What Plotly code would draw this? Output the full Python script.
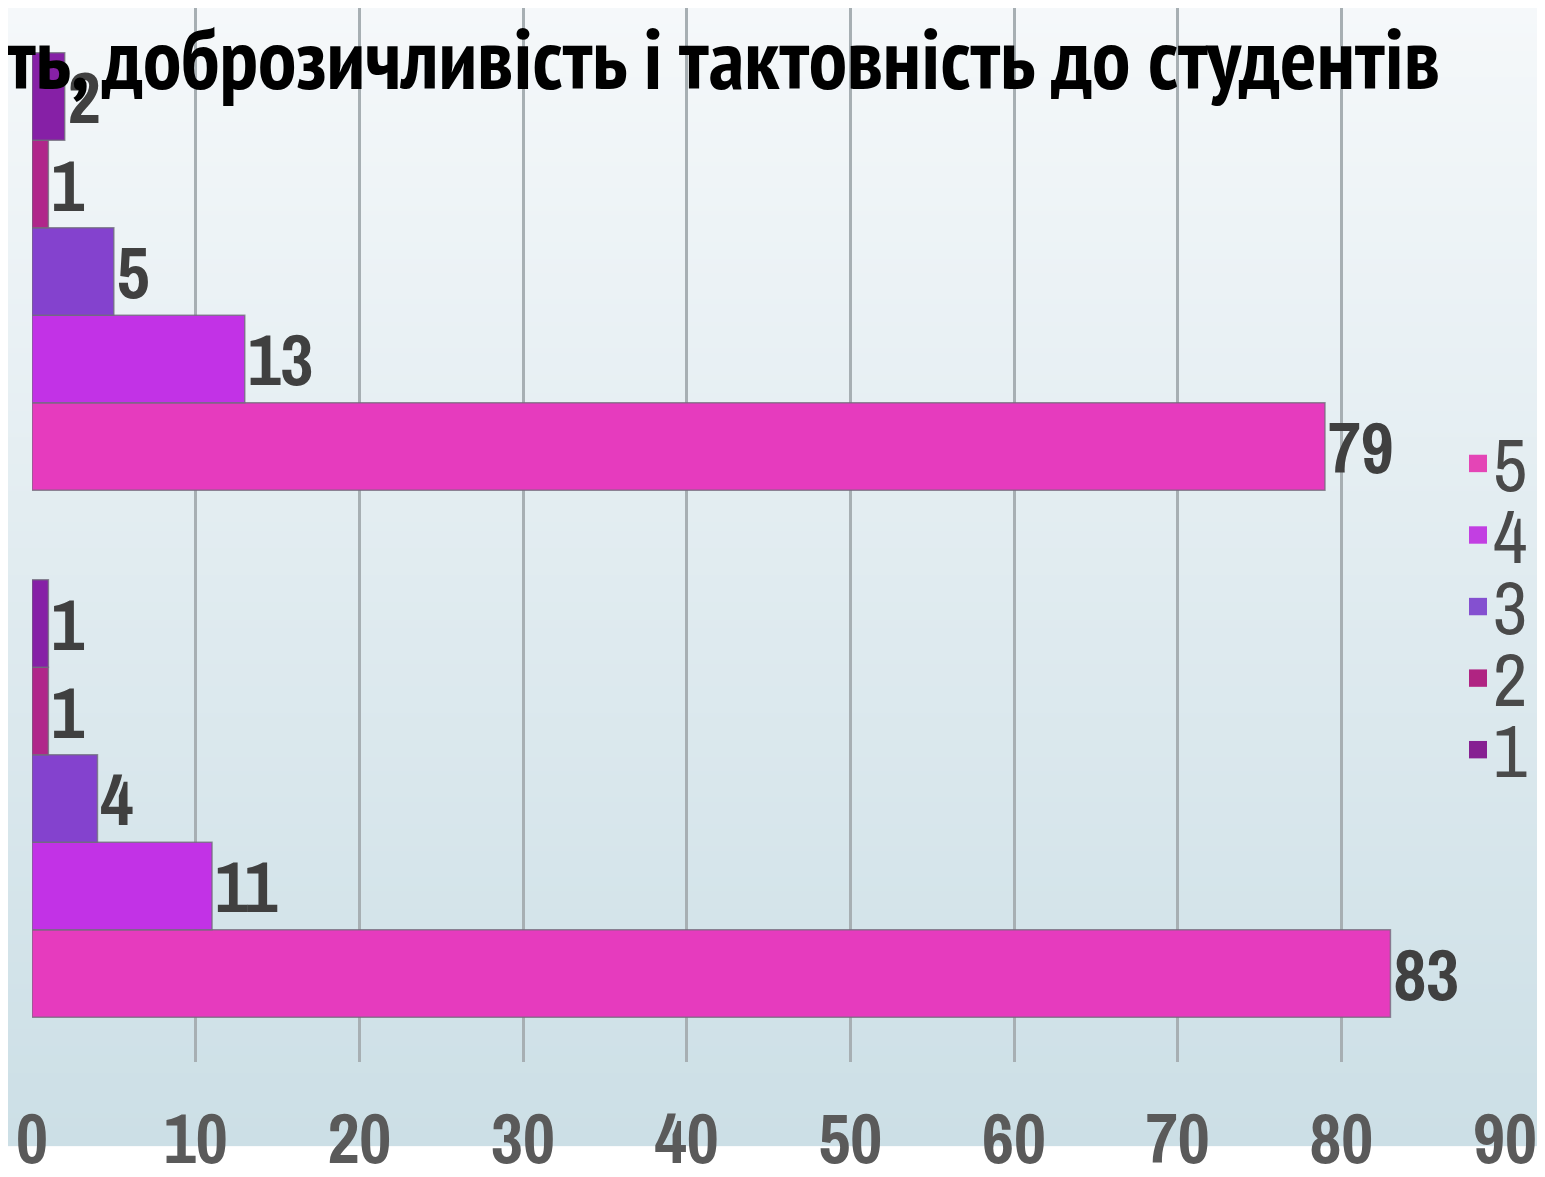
import base64
import struct
import zlib

import plotly.graph_objects as go

# дані діаграми
categories = ["Група 2", "Група 1"]          # нижня, верхня групи
series_names = ["5", "4", "3", "2", "1"]
values_5 = [83, 79]
values_4 = [11, 13]
values_3 = [4, 5]
values_2 = [1, 1]
values_1 = [1, 2]
x_ticks = [0, 10, 20, 30, 40, 50, 60, 70, 80, 90]
title_text = "ть, доброзичливість і тактовність до студентів"

series_values = [values_5, values_4, values_3, values_2, values_1]
colors = ["#E63BBE", "#C232E6", "#8442CE", "#B0268A", "#8620A6"]
legend_colors = ["#E445B6", "#C23FE2", "#8450D0", "#B02482", "#862092"]

# сторінка має відступ 8px, тому поля зменшені на 8
OFF = 8
W, H = 1545, 1177
L, R, T, B = 24, 48, 0, 87
PW, PH = W - L - R, H - T - B
TITLE_FONT = "PT Sans Narrow, Archivo Narrow, sans-serif"
NUM_FONT = "Archivo Narrow, PT Sans Narrow, sans-serif"


def px_x(px):
    return (px - OFF - L) / PW


def px_y(py):
    return (H - B - (py - OFF)) / PH


def gradient_png(top, bottom, h=256):
    # вертикальний градієнт фону, як у слайді
    raw = b""
    for i in range(h):
        t = i / (h - 1)
        c = bytes(round(a + (b - a) * t) for a, b in zip(top, bottom))
        raw += b"\x00" + c + c

    def chunk(tag, data):
        return (struct.pack(">I", len(data)) + tag + data
                + struct.pack(">I", zlib.crc32(tag + data) & 0xffffffff))

    png = (b"\x89PNG\r\n\x1a\n"
           + chunk(b"IHDR", struct.pack(">IIBBBBB", 2, h, 8, 2, 0, 0, 0))
           + chunk(b"IDAT", zlib.compress(raw))
           + chunk(b"IEND", b""))
    return "data:image/png;base64," + base64.b64encode(png).decode()


fig = go.Figure()

for name, vals, col in zip(series_names, series_values, colors):
    fig.add_trace(go.Bar(
        y=categories,
        x=vals,
        name=name,
        orientation="h",
        marker=dict(color=col, line=dict(color="rgba(110,110,120,0.75)", width=1.5)),
        text=vals,
        textposition="outside",
        constraintext="none",
        cliponaxis=False,
        textfont=dict(family=NUM_FONT, size=72, color="#404040", weight="bold"),
        showlegend=False,
    ))

# легенда праворуч
for i, (name, col) in enumerate(zip(series_names, legend_colors)):
    cy = 479 + i * 74
    fig.add_shape(type="rect", xref="paper", yref="paper",
                  x0=px_x(1469), x1=px_x(1487), y0=px_y(cy + 9), y1=px_y(cy - 9),
                  fillcolor=col, line=dict(width=0))
    fig.add_annotation(text=name, xref="paper", yref="paper",
                       x=px_x(1491), y=px_y(cy), xanchor="left", yanchor="middle",
                       showarrow=False,
                       font=dict(family=NUM_FONT, size=75, color="#4A4A4A"))

# заголовок (обрізаний зліва, як на зображенні)
fig.add_annotation(text=title_text, xref="paper", yref="paper",
                   x=px_x(1442), y=px_y(59), xanchor="right", yanchor="middle",
                   showarrow=False,
                   font=dict(family=TITLE_FONT, size=86, color="#000000", weight="bold"))

fig.add_layout_image(dict(
    source=gradient_png((245, 248, 250), (204, 223, 230)),
    xref="paper", yref="paper",
    x=-L / PW, y=1 + T / PH, sizex=W / PW, sizey=H / PH,
    xanchor="left", yanchor="top", sizing="stretch", layer="below",
))

fig.update_layout(
    width=W, height=H,
    margin=dict(l=L, r=R, t=T, b=B, pad=0),
    barmode="group",
    bargap=0.17,
    bargroupgap=0,
    paper_bgcolor="rgba(0,0,0,0)",
    plot_bgcolor="rgba(0,0,0,0)",
    showlegend=False,
)

fig.update_xaxes(
    range=[0, 90],
    tickvals=x_ticks,
    showgrid=True, gridcolor="#A7AFB3", gridwidth=3,
    zeroline=False,
    showline=False,
    ticks="outside", ticklen=16, tickcolor="rgba(0,0,0,0)",
    tickfont=dict(family=NUM_FONT, size=70, color="#5A5A5A", weight="bold"),
)
fig.update_yaxes(
    range=[-0.5, 1.5],
    showticklabels=False,
    showgrid=False, zeroline=False, showline=False,
)

fig.write_html("out.html")
